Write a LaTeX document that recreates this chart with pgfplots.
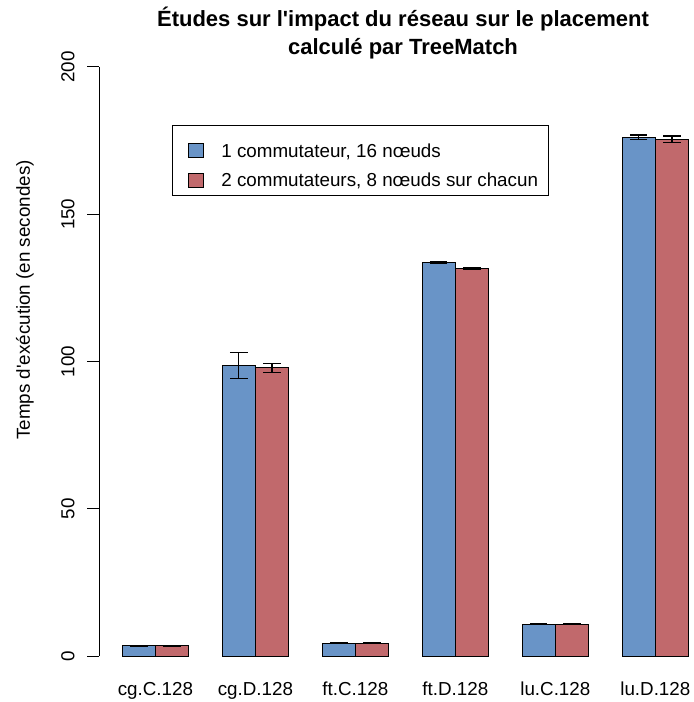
\documentclass[border=0pt]{standalone}
\usepackage{pgfplots}
\pgfplotsset{compat=1.18}
\usepackage{fontspec}
\setmainfont{Liberation Sans}
\definecolor{barblue}{RGB}{105,148,199}
\definecolor{barred}{RGB}{193,105,108}
\newcommand{\fs}{\fontsize{9.4}{11}\selectfont}
\begin{document}
\begin{tikzpicture}
\path[use as bounding box] (-49.7pt,-23pt) rectangle (296.8pt,328pt);
\begin{axis}[
  scale only axis, width=296.8pt, height=294.5pt,
  xmin=0.32, xmax=18.13, ymin=0, ymax=200,
  separate axis lines,
  axis x line*=bottom, axis y line*=left,
  x axis line style={draw=none},
  y axis line style={-, line width=0.5pt, black},
  xtick={2,5,8,11,14,17},
  xticklabels={cg.C.128,cg.D.128,ft.C.128,ft.D.128,lu.C.128,lu.D.128},
  xtick style={draw=none},
  ytick={0,50,100,150,200},
  tick align=outside, major tick length=6pt,
  ytick style={line width=0.5pt, black},
  /pgf/number format/assume math mode=true,
  tick label style={font=\fs},
  xticklabel style={anchor=base, yshift=-13.5pt},
  yticklabel style={rotate=90, anchor=south, inner sep=0pt},
  yticklabel shift=6.2pt,
  ylabel={Temps d\textquotesingle exécution (en secondes)},
  every axis y label/.style={at={(axis description cs:-0.1253,0.6044)}, rotate=90, anchor=center, font=\fs},
  bar width=1,
  legend cell align=left,
  legend style={at={(axis description cs:0.1228,0.9015)}, anchor=north west,
    draw=black, line width=0.5pt, font=\fs,
    inner xsep=5pt, inner ysep=3.8pt, row sep=2.45pt, column sep=8.65pt,
    nodes={inner xsep=0pt, inner ysep=0pt, text height=12.05pt, text depth=0pt}},
  legend image code/.code={\path (0pt,0pt); \draw[#1, line width=0.5pt] (2.85pt,-6.1pt) rectangle (10.15pt,0.9pt);},
]
\addplot[ybar, bar shift=0, fill=barblue, draw=black, line width=0.5pt,
  error bars/.cd, y dir=both, y explicit,
  error bar style={line width=0.7pt, black},
  error mark options={black, line width=0.7pt, mark size=4.4pt, rotate=90}]
  coordinates {
  (1.5,3.5) +- (0,0.1)
  (4.5,98.6) +- (0,4.45)
  (7.5,4.3) +- (0,0.1)
  (10.5,133.7) +- (0,0.3)
  (13.5,10.8) +- (0,0.2)
  (16.5,176.1) +- (0,0.75)
  };
\addlegendentry{1 commutateur, 16 nœuds}
\addplot[ybar, bar shift=0, fill=barred, draw=black, line width=0.5pt,
  error bars/.cd, y dir=both, y explicit,
  error bar style={line width=0.7pt, black},
  error mark options={black, line width=0.7pt, mark size=4.4pt, rotate=90}]
  coordinates {
  (2.5,3.5) +- (0,0.1)
  (5.5,97.8) +- (0,1.45)
  (8.5,4.3) +- (0,0.1)
  (11.5,131.6) +- (0,0.15)
  (14.5,10.8) +- (0,0.2)
  (17.5,175.5) +- (0,1.1)
  };
\addlegendentry{2 commutateurs, 8 nœuds sur chacun}
\end{axis}
\node[anchor=base, font=\fontsize{11}{13}\selectfont\bfseries] at (151.8pt,314.5pt) {Études sur l\textquotesingle impact du réseau sur le placement};
\node[anchor=base, font=\fontsize{11}{13}\selectfont\bfseries] at (151.8pt,300.5pt) {calculé par TreeMatch};
\end{tikzpicture}
\end{document}
